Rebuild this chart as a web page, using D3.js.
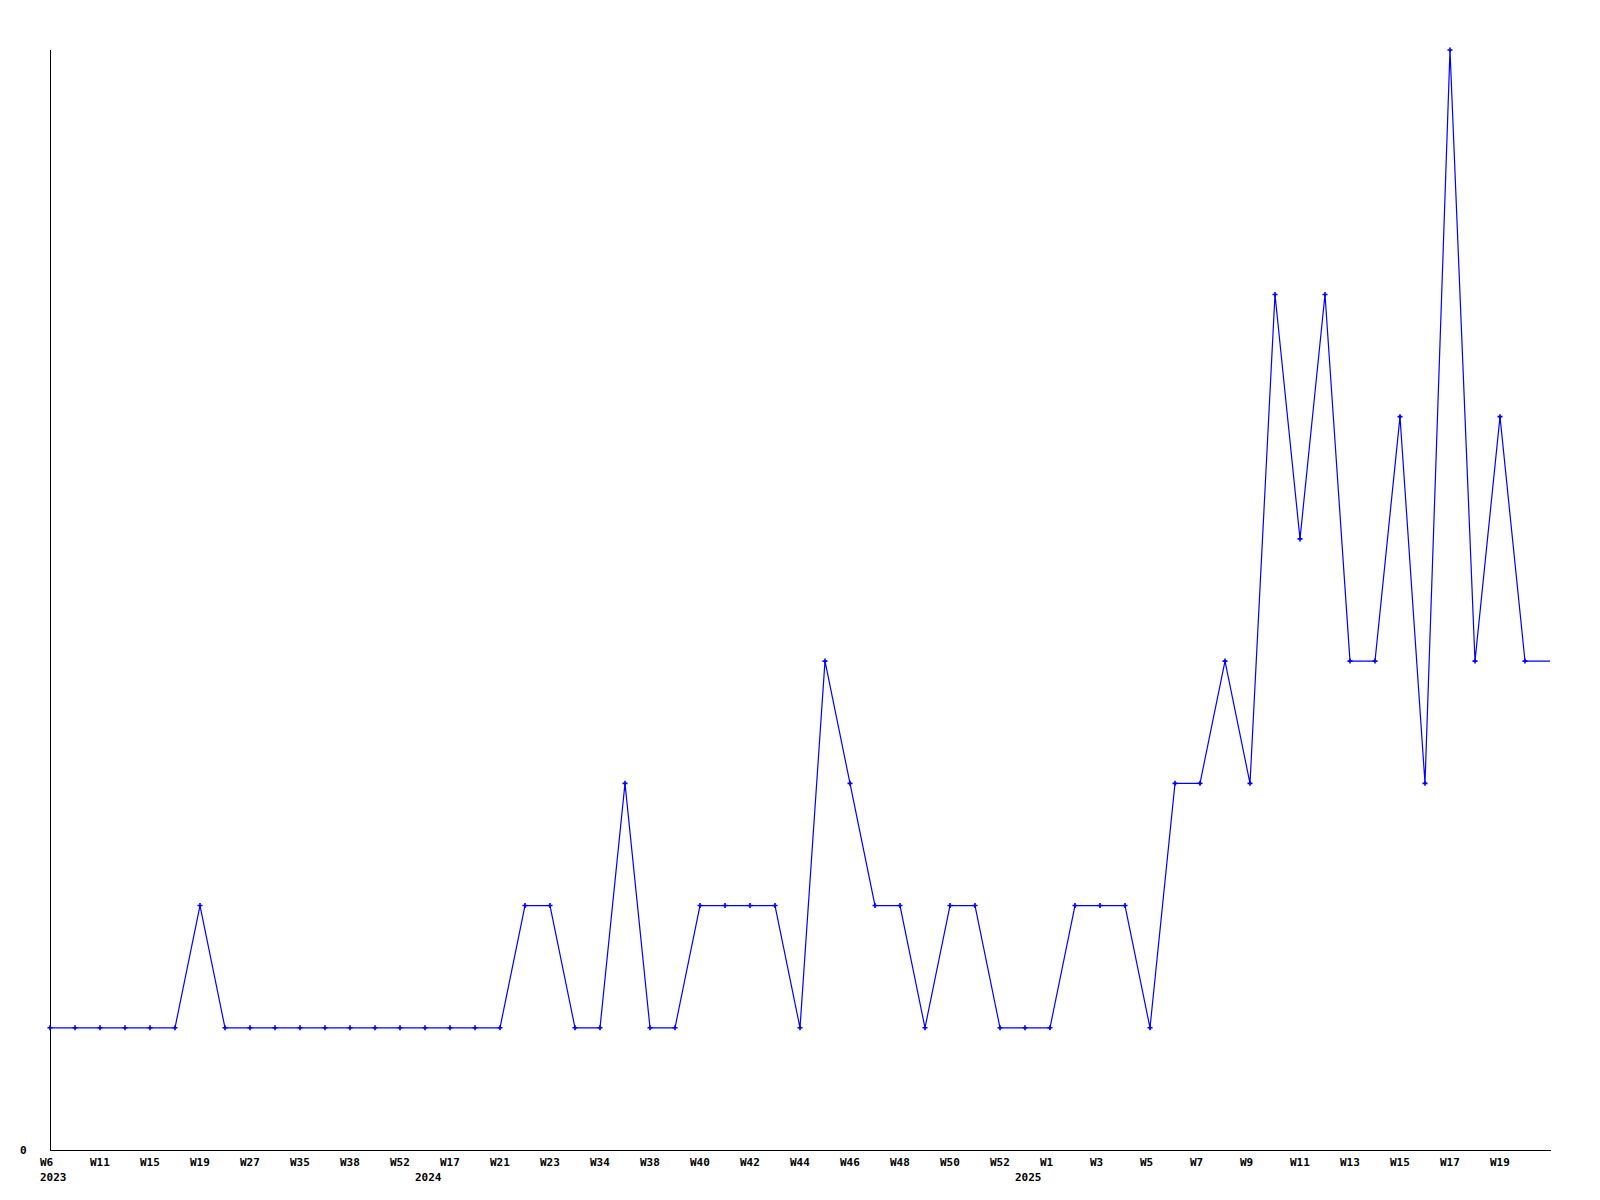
<!DOCTYPE html>
<html>
<head>
<meta charset="utf-8">
<script src="https://cdn.jsdelivr.net/npm/d3@7"></script>
<style>
  html, body { margin: 0; padding: 0; background: #fff; }
  svg { display: block; }
  text { font-family: "DejaVu Sans Mono", "Liberation Mono", monospace; font-weight: bold; font-size: 11px; fill: #000; }
</style>
</head>
<body>
<div id="chart"></div>
<script>
// Weekly values (one per week shown on the axis; last point sits on the right edge)
const values = [
  1, 1, 1, 1, 1, 1, 2, 1, 1, 1,
  1, 1, 1, 1, 1, 1, 1, 1, 1, 2,
  2, 1, 1, 3, 1, 1, 2, 2, 2, 2,
  1, 4, 3, 2, 2, 1, 2, 2, 1, 1,
  1, 2, 2, 2, 1, 3, 3, 4, 3, 7,
  5, 7, 4, 4, 6, 3, 9, 4, 6, 4,
  4
];
// Tick labels shown on every second point
const tickIndex = [0, 2, 4, 6, 8, 10, 12, 14, 16, 18, 20, 22, 24, 26, 28, 30, 32, 34, 36, 38, 40, 42, 44, 46, 48, 50, 52, 54, 56, 58];
const tickLabels = ["W6", "W11", "W15", "W19", "W27", "W35", "W38", "W52", "W17", "W21",
                    "W23", "W34", "W38", "W40", "W42", "W44", "W46", "W48", "W50", "W52",
                    "W1", "W3", "W5", "W7", "W9", "W11", "W13", "W15", "W17", "W19"];
const yearIndex = [0, 16, 40];
const yearLabels = ["2023", "2024", "2025"];
const yTicks = [0];
const yMax = 9;

(function () {
  const W = 1600, H = 1200;
  const mLeft = 50, mRight = 1550, mTop = 50, mBottom = 1150;

  const svg = d3.select("#chart").append("svg").attr("width", W).attr("height", H);

  const x = d3.scaleLinear().domain([0, values.length - 1]).range([mLeft, mRight]);
  const y = d3.scaleLinear().domain([0, yMax]).range([mBottom, mTop]);

  // axes
  svg.append("line").attr("x1", mLeft + 0.5).attr("x2", mLeft + 0.5).attr("y1", mTop).attr("y2", mBottom + 1)
    .attr("stroke", "#000").attr("stroke-width", 1);
  svg.append("line").attr("x1", mLeft).attr("x2", mRight + 1).attr("y1", mBottom + 0.5).attr("y2", mBottom + 0.5)
    .attr("stroke", "#000").attr("stroke-width", 1);

  // y labels
  svg.selectAll("text.ytick").data(yTicks).enter().append("text")
    .attr("class", "ytick")
    .attr("x", 20).attr("y", d => y(d)).attr("dy", "0.36em")
    .text(d => d);

  // x tick labels
  svg.selectAll("text.xtick").data(tickIndex).enter().append("text")
    .attr("class", "xtick")
    .attr("x", d => x(d) - 10).attr("y", 1166)
    .text((d, i) => tickLabels[i]);

  // year labels
  svg.selectAll("text.year").data(yearIndex).enter().append("text")
    .attr("class", "year")
    .attr("x", d => Math.max(x(d) - 35, mLeft - 10)).attr("y", 1181)
    .text((d, i) => yearLabels[i]);

  // line
  const line = d3.line().x((d, i) => x(i)).y(d => y(d));
  svg.append("path").datum(values)
    .attr("d", line)
    .attr("fill", "none").attr("stroke", "#0000ff").attr("stroke-width", 1.2);

  // markers (not on the right border point)
  svg.selectAll("path.mk").data(values.map((v, i) => [i, v]).filter(d => x(d[0]) < mRight))
    .enter().append("path")
    .attr("class", "mk")
    .attr("transform", d => `translate(${x(d[0])},${y(d[1])})`)
    .attr("d", "M-2.5,0H2.5M0,-2.5V2.5")
    .attr("stroke", "#0000ff").attr("stroke-width", 1.6).attr("fill", "none");
})();
</script>
</body>
</html>
